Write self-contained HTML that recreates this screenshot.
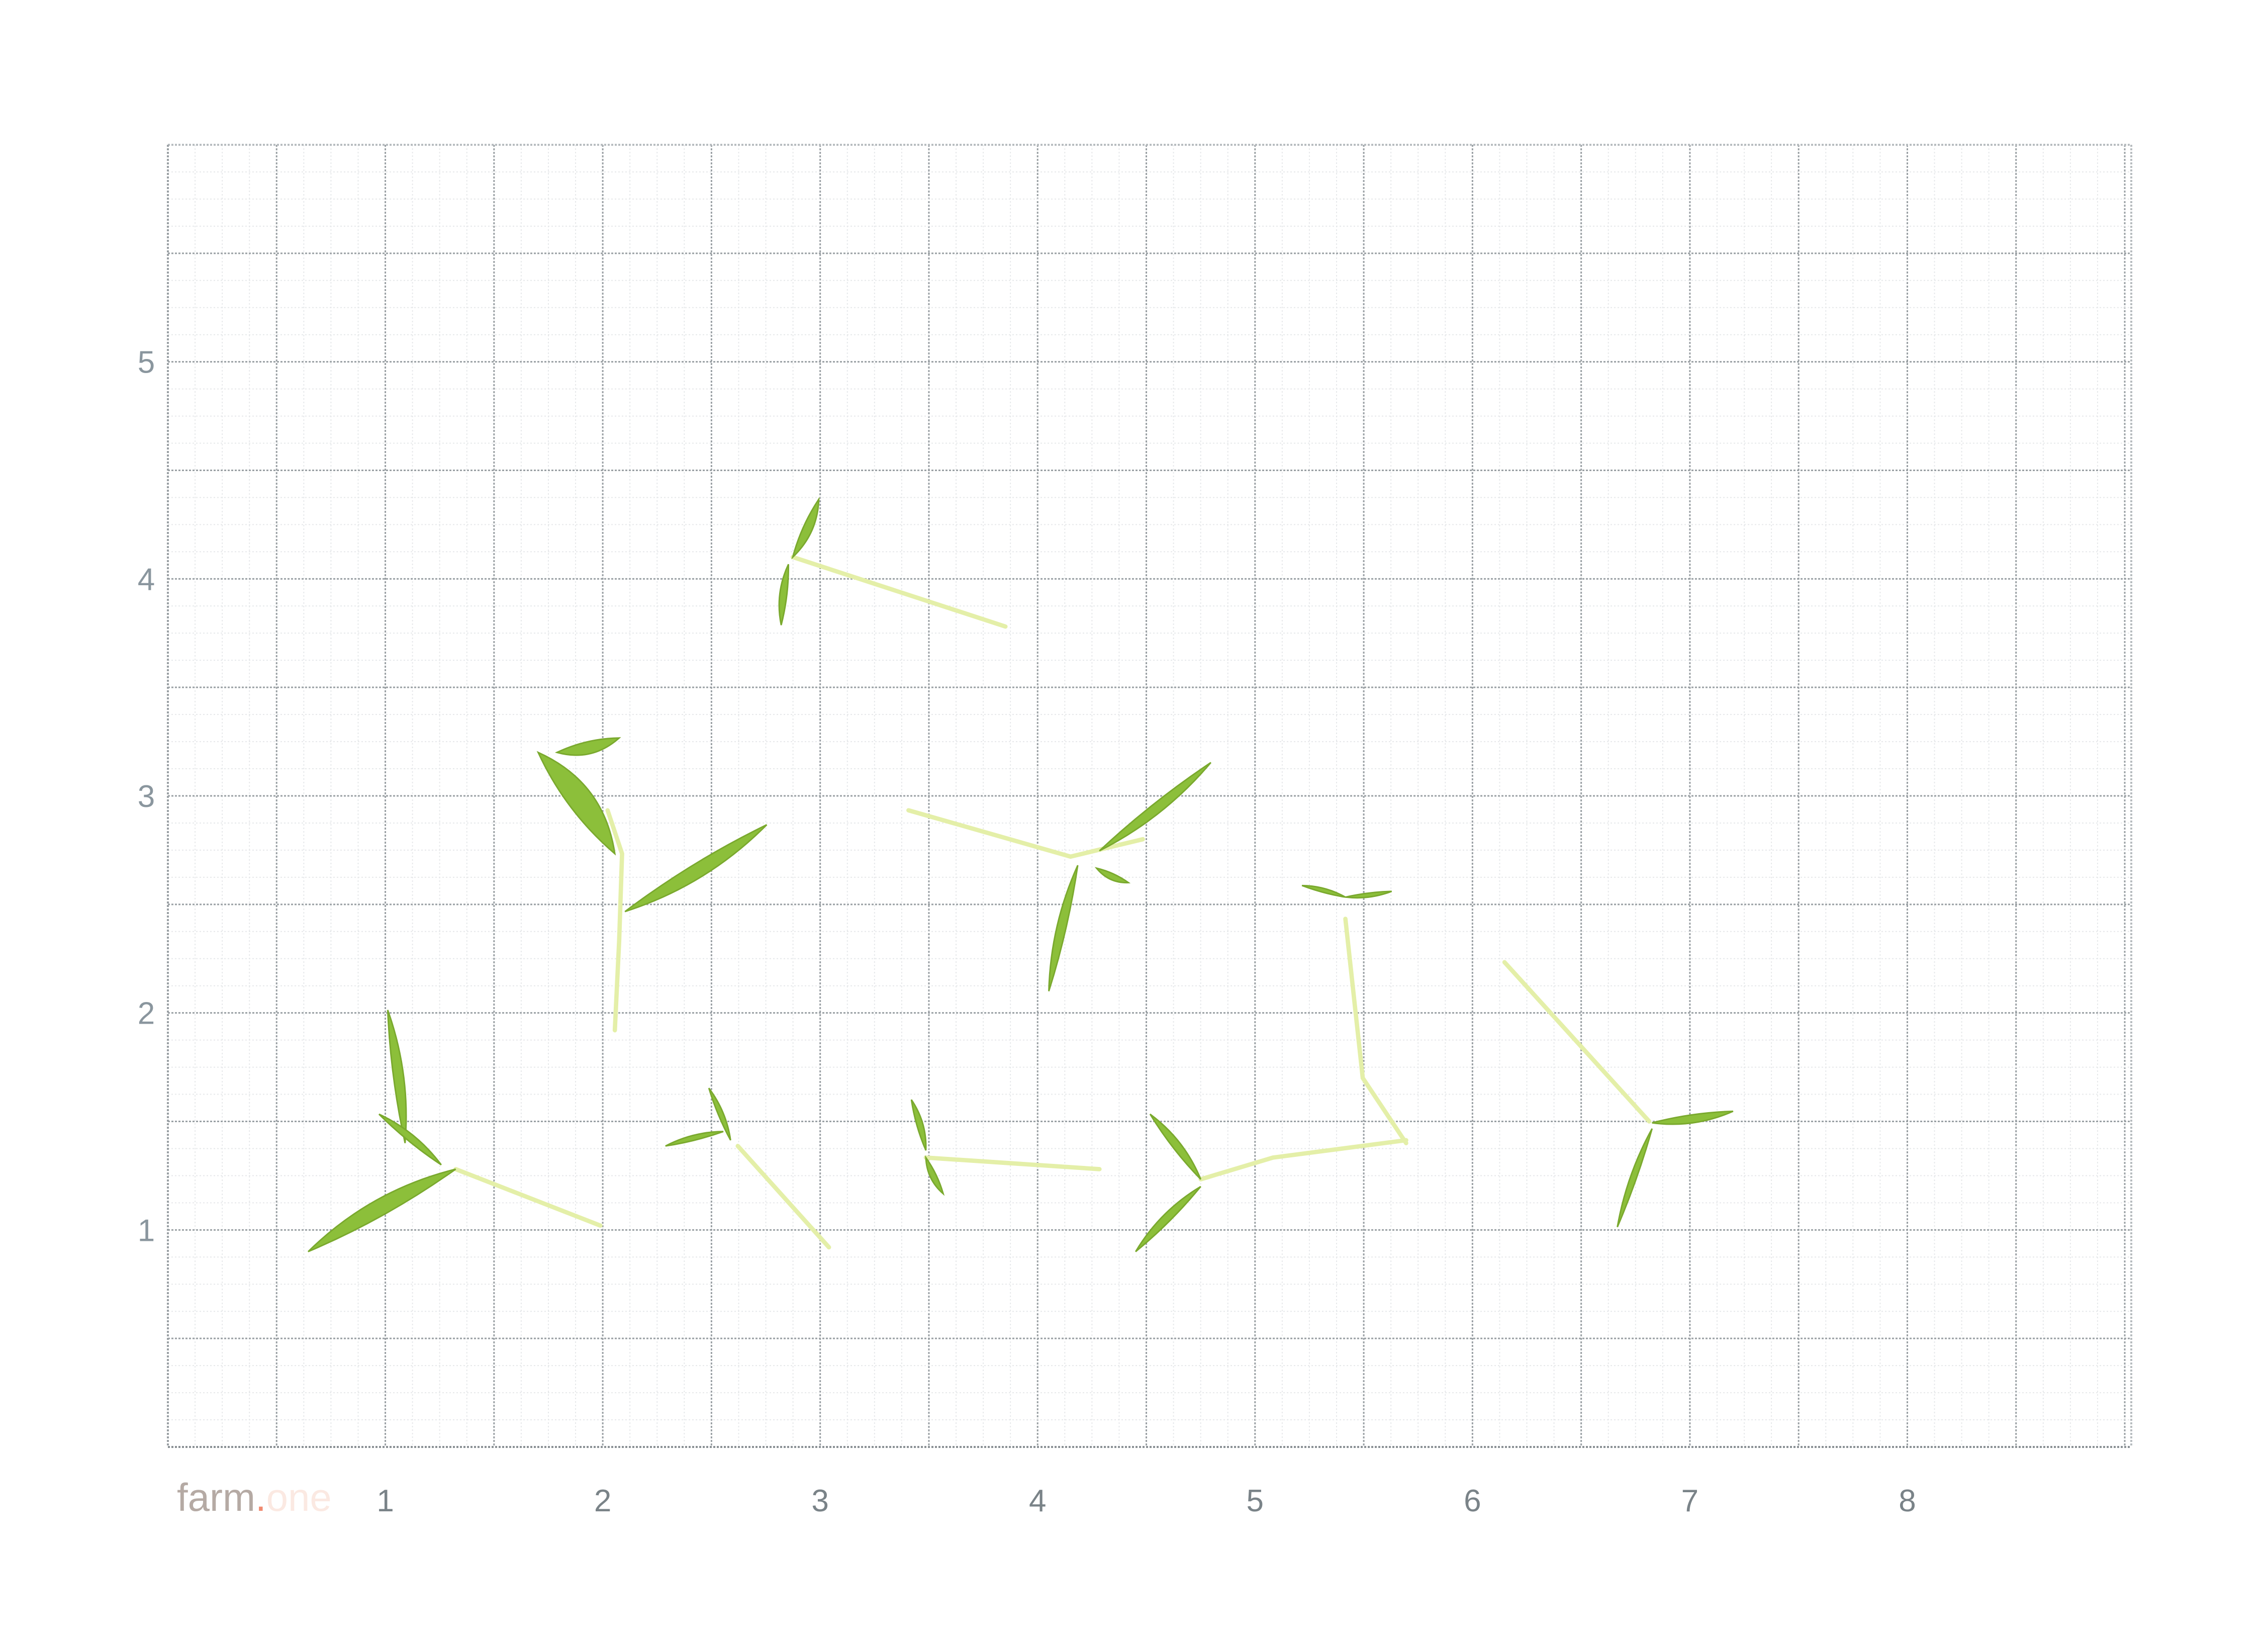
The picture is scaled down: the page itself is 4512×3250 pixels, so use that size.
<!DOCTYPE html>
<html><head><meta charset="utf-8"><style>
html,body{margin:0;padding:0;background:#fff;}
svg{display:block;}
</style></head><body>
<svg id="chart" width="4512" height="3250" viewBox="0 0 4512 3250" xmlns="http://www.w3.org/2000/svg">
<rect width="4512" height="3250" fill="#fff"/>
<g id="grid"></g>
<g id="plants" transform="scale(2.878)"></g>
<g id="labels"></g>
<text x="352" y="3005" font-family="Liberation Sans, sans-serif" font-size="78" fill="#b5aaa4">farm<tspan fill="#f08a70">.</tspan><tspan fill="#fbe9e2">one</tspan></text>
</svg>
<script>
const xTicks=[1,2,3,4,5,6,7,8];
const yTicks=[1,2,3,4,5];
const xMax=9.03, yMax=6;
const plantStems=[
 [[415,847],[315,808]],
 [[425,712],[428,650],[430,590],[420,560]],
 [[695,433],[548,385]],
 [[628,560],[740,592],[790,580]],
 [[972,790],[942,745],[930,635]],
 [[972,788],[880,800],[830,815]],
 [[760,808],[640,800]],
 [[573,862],[510,792]],
 [[1040,665],[1140,775]]
];
const plantLeaves=[
 [315,808,213,865,16],[280,790,268,698,10],[305,805,262,770,7],
 [425,590,372,520,24],[432,630,530,570,14],[385,520,428,510,12],
 [548,385,566,345,9],[545,390,540,432,7],
 [760,588,837,527,10],[745,598,725,685,9],[758,600,780,610,6],
 [930,620,900,612,4],[930,620,962,616,4],
 [830,815,795,770,8],[830,820,785,865,8],
 [640,795,630,760,6],[640,800,652,825,6],
 [505,788,490,752,5],[500,782,460,792,5],
 [1142,776,1198,768,8],[1142,780,1118,848,6]
];
const NS='http://www.w3.org/2000/svg';
const L=334,R=4240,T=288,B=2878;
const X=u=>L+u*(R-L)/xMax, Y=v=>B-v*(B-T)/yMax;
const grid=document.getElementById('grid');
function line(x1,y1,x2,y2,c,w,d){const l=document.createElementNS(NS,'line');
l.setAttribute('x1',x1);l.setAttribute('y1',y1);l.setAttribute('x2',x2);l.setAttribute('y2',y2);
l.setAttribute('stroke',c);l.setAttribute('stroke-width',w);if(d)l.setAttribute('stroke-dasharray',d);


grid.appendChild(l);}
for(let i=0;i<=Math.floor(xMax*8);i++){const u=i/8;const maj=i%4===0;
 line(X(u),T,X(u),B,maj?'#9aa0a4':'#e6e8ea',maj?3:2,maj?'4 3':'3 4');}
for(let i=0;i<=yMax*8;i++){const v=i/8;const maj=i%4===0;
 line(L,Y(v),R,Y(v),maj?'#9aa0a4':'#e6e8ea',maj?3:2,maj?'4 3':'3 4');}
line(L,T,R,T,'#b8bdc0',4,'4 3');line(L,B,R,B,'#8a9094',4,'4 3');
line(L,T,L,B,'#9aa0a4',4,'4 3');line(R,T,R,B,'#b8bdc0',4,'4 3');
const labels=document.getElementById('labels');
xTicks.forEach(t=>{const e=document.createElementNS(NS,'text');
 e.setAttribute('x',X(t));e.setAttribute('y',3006);e.setAttribute('text-anchor','middle');
 e.setAttribute('font-family','Liberation Sans, sans-serif');e.setAttribute('font-size','62');e.setAttribute('fill','#7a8388');
 
 
 e.textContent=t;labels.appendChild(e);});
yTicks.forEach(t=>{const e=document.createElementNS(NS,'text');
 e.setAttribute('x',291);e.setAttribute('y',Y(t)+22);e.setAttribute('text-anchor','middle');
 e.setAttribute('font-family','Liberation Sans, sans-serif');e.setAttribute('font-size','62');e.setAttribute('fill','#8a969e');
 
 
 e.textContent=t;labels.appendChild(e);});
const plants=document.getElementById('plants');
plantStems.forEach(s=>{const p=document.createElementNS(NS,'polyline');
 p.setAttribute('points',s.map(q=>q.join(',')).join(' '));p.setAttribute('fill','none');
 p.setAttribute('stroke','#e4efa8');p.setAttribute('stroke-width','3');p.setAttribute('stroke-linecap','round');
 
 
 plants.appendChild(p);});
plantLeaves.forEach(([x1,y1,x2,y2,w])=>{const dx=x2-x1,dy=y2-y1,len=Math.hypot(dx,dy);
 const nx=-dy/len*w,ny=dx/len*w,mx=(x1+x2)/2,my=(y1+y2)/2;
 const p=document.createElementNS(NS,'path');
 p.setAttribute('d',`M${x1},${y1} Q${mx+nx},${my+ny} ${x2},${y2} Q${mx-nx*0.4},${my-ny*0.4} ${x1},${y1}Z`);
 p.setAttribute('fill','#8cbf3a');p.setAttribute('stroke','#7aa92e');p.setAttribute('stroke-width','1');
 
 
 plants.appendChild(p);});
</script>
</body></html>
